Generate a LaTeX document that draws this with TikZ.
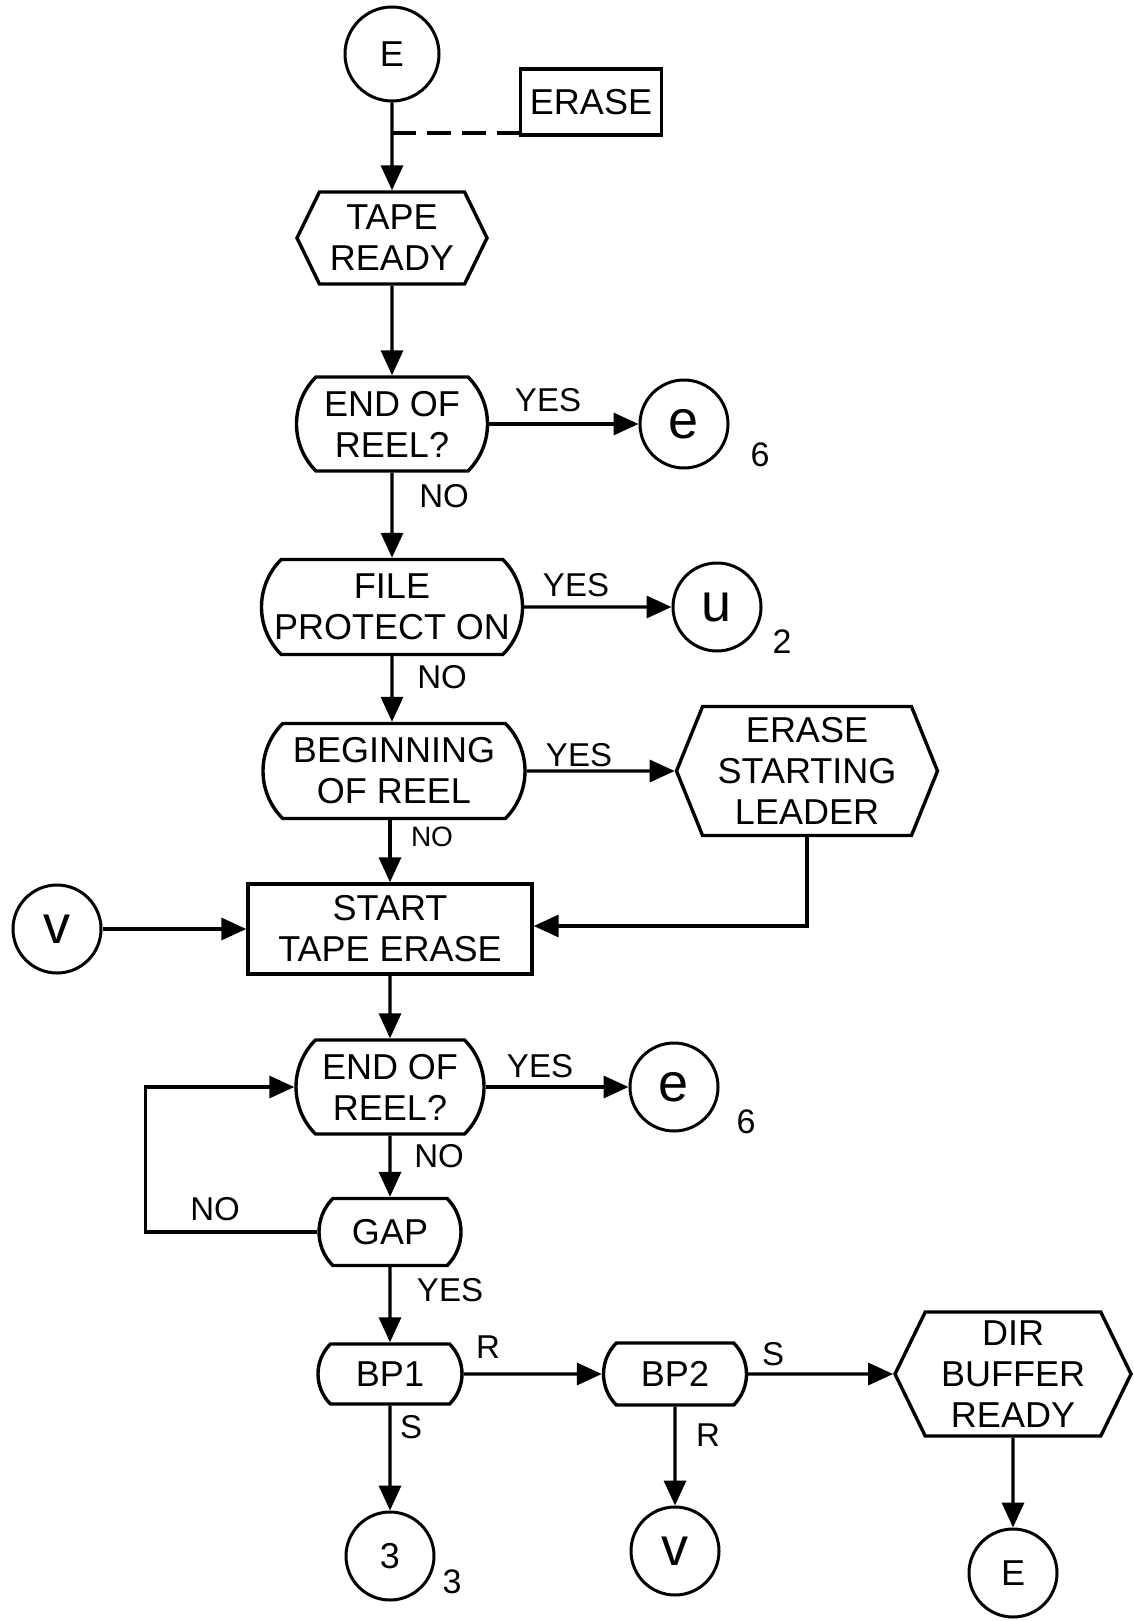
\documentclass[tikz,border=0pt]{standalone}
\usepackage{fontspec}
\setmainfont{Liberation Sans}
\usetikzlibrary{shapes.misc,shapes.symbols,arrows.meta}
\begin{document}
\begin{tikzpicture}[x=1pt,y=-1pt,
  every node/.style={font=\fontsize{36}{41}\selectfont},
  lw/.style={line width=3.4pt},
  conn/.style={circle,draw,line width=3pt,minimum size=88pt,inner sep=0pt},
  lconn/.style={conn,font=\fontsize{54}{60}\selectfont},
  dec/.style={rounded rectangle,rounded rectangle arc length=90,draw,lw,align=center,inner sep=0pt},
  prep/.style={signal,signal to=east and west,draw,lw,align=center,inner sep=0pt},
  proc/.style={rectangle,draw,lw,align=center,inner sep=0pt},
  lab/.style={font=\fontsize{33}{38}\selectfont,inner sep=0pt},
  sub/.style={font=\fontsize{34}{38}\selectfont,inner sep=0pt},
  flow/.style={lw,-{Triangle[length=25pt,width=22pt]}}]
\useasboundingbox[fill=white] (0,0) rectangle (1134,1621);

% nodes
\node[conn,minimum size=94pt] (E1) at (392,54) {E};
\node[proc,minimum width=141pt,minimum height=66pt] (erase) at (591,102) {ERASE};
\node[prep,minimum width=190pt,minimum height=92pt,signal pointer angle=128] (tape) at (392,238) {TAPE\\READY};
\node[dec,minimum width=191pt,minimum height=94pt] (eor1) at (392,424) {END OF\\REEL?};
\node[lconn] (e1) at (684,424) {e};
\node[dec,minimum width=261pt,minimum height=95pt] (fp) at (392,607) {FILE\\PROTECT ON};
\node[lconn] (u) at (717,607) {u};
\node[dec,minimum width=262pt,minimum height=95pt] (bor) at (394,771) {BEGINNING\\OF REEL};
\node[prep,minimum width=261pt,minimum height=129pt,signal pointer angle=136] (esl) at (807,771) {ERASE\\STARTING\\LEADER};
\node[proc,minimum width=284pt,minimum height=90pt] (ste) at (390,929) {START\\TAPE ERASE};
\node[lconn] (vL) at (57,929) {v};
\node[dec,minimum width=188pt,minimum height=94pt] (eor2) at (390,1087) {END OF\\REEL?};
\node[lconn] (e2) at (674,1087) {e};
\node[dec,minimum width=142pt,minimum height=67pt] (gap) at (390,1232) {GAP};
\node[dec,minimum width=144pt,minimum height=60pt] (bp1) at (390,1374) {BP1};
\node[dec,minimum width=143pt,minimum height=62pt] (bp2) at (675,1374) {BP2};
\node[prep,minimum width=236pt,minimum height=124pt,signal pointer angle=128] (dir) at (1013,1374) {DIR\\BUFFER\\READY};
\node[conn] (c3) at (390,1556) {3};
\node[lconn] (vB) at (675,1551) {v};
\node[conn] (Eb) at (1013,1573) {E};

% subscripts
\node[sub] (s6a) at (760,455) {6};
\node[sub] (s2) at (782,642) {2};
\node[sub] (s6b) at (746,1122) {6};
\node[sub] (s3) at (452,1582) {3};

% connectors
\coordinate (dj) at (392,133);
\draw[flow] (E1) -- (tape);
\draw[lw,dash pattern=on 24pt off 11pt] (dj) -- (dj -| erase.west);
\draw[flow] (tape) -- (eor1);
\draw[flow] (eor1) -- (e1);
\node[lab] (y1) at (548,400) {YES};
\draw[flow] (eor1) -- (fp);
\node[lab] (n1) at (444,496) {NO};
\draw[flow] (fp) -- (u);
\node[lab] (y2) at (576,585) {YES};
\draw[flow] (fp) -- (fp |- bor.north);
\node[lab] (n2) at (442,677) {NO};
\draw[flow] (bor) -- (esl);
\node[lab] (y3) at (579,755) {YES};
\draw[flow] (bor.south -| ste) -- (ste);
\node[lab,font=\fontsize{28}{32}\selectfont] (n3) at (432,837) {NO};
\draw[flow] (esl.south) |- ([yshift=3pt]ste.east);
\draw[flow] (vL) -- (ste);
\draw[flow] (ste) -- (eor2);
\draw[flow] (eor2) -- (e2);
\node[lab] (y4) at (540,1066) {YES};
\draw[flow] (eor2) -- (gap);
\node[lab] (n4) at (439,1156) {NO};
\draw[flow] (gap.west) -- ++(-172,0) |- (eor2.west);
\node[lab] (n5) at (215,1209) {NO};
\draw[flow] (gap) -- (bp1);
\node[lab] (y5) at (450,1290) {YES};
\draw[flow] (bp1) -- (bp2);
\node[lab] (r1) at (488,1347) {R};
\draw[flow] (bp2) -- (dir);
\node[lab] (s1) at (773,1354) {S};
\draw[flow] (bp1) -- (c3);
\node[lab] (s2l) at (411,1427) {S};
\draw[flow] (bp2) -- (vB);
\node[lab] (r2) at (708,1435) {R};
\draw[flow] (dir) -- (Eb);
\end{tikzpicture}
\end{document}
